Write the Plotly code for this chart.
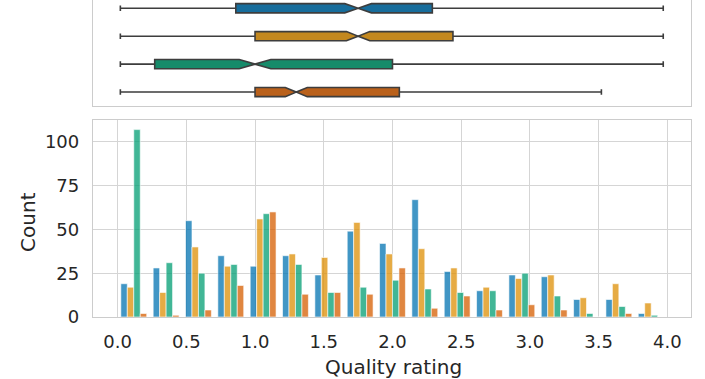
import numpy as np
import plotly.graph_objects as go

# ---- data ----
groups = ["Group A", "Group B", "Group C", "Group D"]
bar_colors = ["rgba(1,115,178,0.75)", "rgba(222,143,5,0.75)",
              "rgba(2,158,115,0.75)", "rgba(213,94,0,0.75)"]
box_colors = ["#176d9c", "#c3881f", "#168b6a", "#ba611b"]

n_bins = 17
bin_lo, bin_hi = 0.0, 4.0

counts_a = [19, 28, 55, 35, 29, 35, 24, 49, 42, 67, 26, 15, 24, 23, 10, 10, 2]
counts_b = [17, 14, 40, 29, 56, 36, 34, 54, 36, 39, 28, 17, 22, 24, 11, 19, 8]
counts_c = [107, 31, 25, 30, 59, 30, 14, 17, 21, 16, 14, 15, 25, 12, 2, 6, 1]
counts_d = [2, 1, 4, 18, 60, 13, 14, 13, 28, 5, 12, 4, 7, 4, 0, 2, 0]
counts = [counts_a, counts_b, counts_c, counts_d]

box_lower = [0.02, 0.02, 0.02, 0.02]
box_q1 = [0.86, 1.0, 0.27, 1.0]
box_median = [1.75, 1.75, 1.0, 1.3]
box_q3 = [2.29, 2.44, 2.0, 2.05]
box_upper = [3.97, 3.97, 3.97, 3.52]
box_notch = [0.097, 0.085, 0.115, 0.08]

x_ticks = [0.0, 0.5, 1.0, 1.5, 2.0, 2.5, 3.0, 3.5, 4.0]
x_ticklabels = ["0.0", "0.5", "1.0", "1.5", "2.0", "2.5", "3.0", "3.5", "4.0"]
y_ticks = [0, 25, 50, 75, 100]
x_title = "Quality rating"
y_title = "Count"

edges = np.linspace(bin_lo, bin_hi, n_bins + 1)
centers = (edges[:-1] + edges[1:]) / 2

TXT = "#262626"
GRID = "#d5d5d5"
SPINE = "#cccccc"
FONT = "DejaVu Sans"

fig = go.Figure()

for i, g in enumerate(groups):
    fig.add_trace(go.Bar(
        x=centers, y=counts[i], name=g,
        marker=dict(color=bar_colors[i], line=dict(color="rgba(255,255,255,0.75)", width=0.8)),
        xaxis="x", yaxis="y", showlegend=False,
    ))

for i, g in enumerate(groups):
    fig.add_trace(go.Box(
        y=[i], q1=[box_q1[i]], median=[box_median[i]], q3=[box_q3[i]],
        lowerfence=[box_lower[i]], upperfence=[box_upper[i]],
        notchspan=[box_notch[i]], notched=True, notchwidth=0.5,
        orientation="h", name=g, fillcolor=box_colors[i],
        line=dict(color="#3d3d3d", width=1.6), width=0.33, whiskerwidth=0.6,
        xaxis="x2", yaxis="y2", showlegend=False, boxpoints=False,
    ))

fig.update_layout(
    width=705, height=379,
    margin=dict(l=93, r=14, t=0, b=62),
    paper_bgcolor="white", plot_bgcolor="white",
    font=dict(family=FONT, color=TXT, size=18),
    barmode="group", bargap=0.2, bargroupgap=0,
    showlegend=False,
    xaxis=dict(
        domain=[0, 1], anchor="y", range=[-0.179, 4.172], automargin=False,
        tickvals=x_ticks, ticktext=x_ticklabels,
        showgrid=True, gridcolor=GRID, gridwidth=1,
        showline=True, linecolor=SPINE, linewidth=1.3, mirror=True,
        ticks="outside", ticklen=8, tickcolor="rgba(0,0,0,0)",
        zeroline=False,
        tickfont=dict(size=18, color=TXT),
    ),
    yaxis=dict(
        domain=[0, 0.6215], anchor="x", range=[0, 112.5], automargin=False,
        tickvals=y_ticks,
        showgrid=True, gridcolor=GRID, gridwidth=1,
        showline=True, linecolor=SPINE, linewidth=1.3, mirror=True,
        ticks="outside", ticklen=9, tickcolor="rgba(0,0,0,0)",
        zeroline=False,
        tickfont=dict(size=18, color=TXT),
    ),
    xaxis2=dict(
        domain=[0, 1], anchor="y2", matches="x", automargin=False,
        showticklabels=False, showgrid=False, zeroline=False,
        showline=True, linecolor=SPINE, linewidth=1.3, mirror=False, ticks="",
    ),
    yaxis2=dict(
        domain=[0.6656, 1], anchor="x2", range=[3.5, -0.296], automargin=False,
        showticklabels=False, showgrid=False, zeroline=False,
        showline=True, linecolor=SPINE, linewidth=1.3, mirror=True, ticks="",
    ),
    annotations=[
        dict(text=x_title, xref="paper", yref="paper", x=0.503, y=-0.158,
             xanchor="center", yanchor="middle", showarrow=False,
             font=dict(size=20, color=TXT)),
        dict(text=y_title, xref="paper", yref="paper", x=-0.1087, y=0.30,
             xanchor="center", yanchor="middle", showarrow=False, textangle=-90,
             font=dict(size=20, color=TXT)),
    ],
)

fig.write_html(
    "out.html",
    config={"displayModeBar": False},
    post_script="document.body.style.margin='0px';document.body.style.overflow='hidden';",
)
